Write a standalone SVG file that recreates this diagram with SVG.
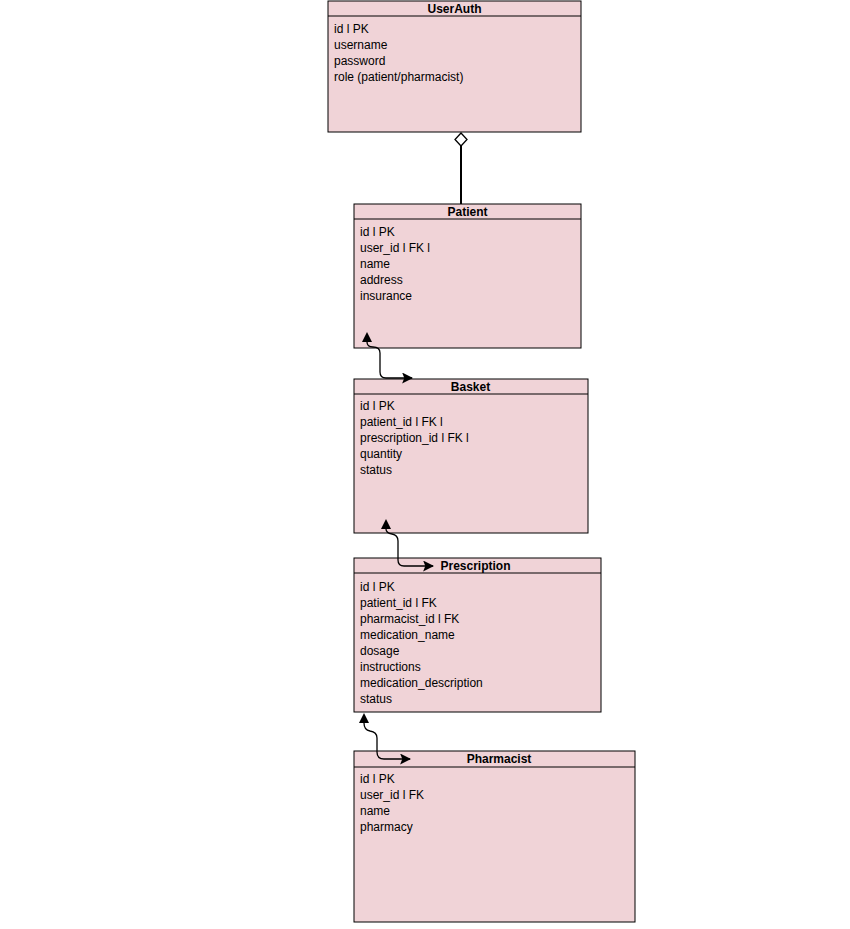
<svg xmlns="http://www.w3.org/2000/svg" width="850" height="929" viewBox="0 0 850 929">
<style>
.box{fill:#f0d3d7;stroke:#000;stroke-width:1}
.hl{stroke:#000;stroke-width:1}
.t{font-family:"Liberation Sans",Arial,sans-serif;font-size:12px;fill:#000}
.h{font-family:"Liberation Sans",Arial,sans-serif;font-size:12px;font-weight:bold;fill:#000;text-anchor:middle}
.c{fill:none;stroke:#000;stroke-width:1.3}
</style>
<defs>
<marker id="ar" viewBox="0 0 10 10" refX="9" refY="5" markerWidth="11" markerHeight="11" markerUnits="userSpaceOnUse" orient="auto">
<path d="M0,0 L10,5 L0,10 L2,5 Z" fill="#000"/>
</marker>
</defs>
<rect width="850" height="929" fill="#fff"/>
<g id="UserAuth">
<rect class="box" x="328" y="1" width="253" height="131"/>
<line class="hl" x1="328" y1="16" x2="581" y2="16"/>
<text class="h" x="454.5" y="12.5">UserAuth</text>
<text class="t" x="334" y="33">id l PK</text>
<text class="t" x="334" y="49">username</text>
<text class="t" x="334" y="65">password</text>
<text class="t" x="334" y="81">role (patient/pharmacist)</text>
</g>
<g id="Patient">
<rect class="box" x="354" y="204" width="227" height="144"/>
<line class="hl" x1="354" y1="219" x2="581" y2="219"/>
<text class="h" x="467.5" y="215.5">Patient</text>
<text class="t" x="360" y="236">id l PK</text>
<text class="t" x="360" y="252">user_id l FK l</text>
<text class="t" x="360" y="268">name</text>
<text class="t" x="360" y="284">address</text>
<text class="t" x="360" y="300">insurance</text>
</g>
<g id="Basket">
<rect class="box" x="354" y="379" width="234" height="154"/>
<line class="hl" x1="354" y1="394" x2="588" y2="394"/>
<text class="h" x="470.5" y="390.5">Basket</text>
<text class="t" x="360" y="410">id l PK</text>
<text class="t" x="360" y="426">patient_id l FK l</text>
<text class="t" x="360" y="442">prescription_id l FK l</text>
<text class="t" x="360" y="458">quantity</text>
<text class="t" x="360" y="474">status</text>
</g>
<g id="Prescription">
<rect class="box" x="354" y="558" width="247" height="154"/>
<line class="hl" x1="354" y1="573" x2="601" y2="573"/>
<text class="h" x="475.5" y="570">Prescription</text>
<text class="t" x="360" y="591">id l PK</text>
<text class="t" x="360" y="607">patient_id l FK</text>
<text class="t" x="360" y="623">pharmacist_id l FK</text>
<text class="t" x="360" y="639">medication_name</text>
<text class="t" x="360" y="655">dosage</text>
<text class="t" x="360" y="671">instructions</text>
<text class="t" x="360" y="687">medication_description</text>
<text class="t" x="360" y="703">status</text>
</g>
<g id="Pharmacist">
<rect class="box" x="354" y="751" width="281" height="171"/>
<line class="hl" x1="354" y1="767" x2="635" y2="767"/>
<text class="h" x="499" y="763">Pharmacist</text>
<text class="t" x="360" y="783">id l PK</text>
<text class="t" x="360" y="799">user_id l FK</text>
<text class="t" x="360" y="815">name</text>
<text class="t" x="360" y="831">pharmacy</text>
</g>
<g id="connectors">
<line x1="461" y1="146" x2="461" y2="204" stroke="#000" stroke-width="2"/>
<path d="M461,133 L467,139.5 L461,146 L455,139.5 Z" fill="#fff" stroke="#000" stroke-width="1.3"/>
<path class="c" d="M367,342 Q367,347 373,347 Q380,347 380,353 L380,372 Q380,378 386,378 L412,378" marker-end="url(#ar)"/>
<path class="c" marker-end="url(#ar)" d="M386,529 Q386,533 392,534 Q398,535 398,541 L398,560 Q398,566 404,566 L433,566"/>
<path class="c" marker-end="url(#ar)" d="M364,723 Q364,730 370,731 Q377,732 377,738 L377,752 Q377,759 384,759 L410,759"/>
<path d="M367,332 L372,342 L362,342 Z" fill="#000"/>
<path d="M386,519 L391,529 L381,529 Z" fill="#000"/>
<path d="M364,713 L369,723 L359,723 Z" fill="#000"/>
</g>
</svg>
